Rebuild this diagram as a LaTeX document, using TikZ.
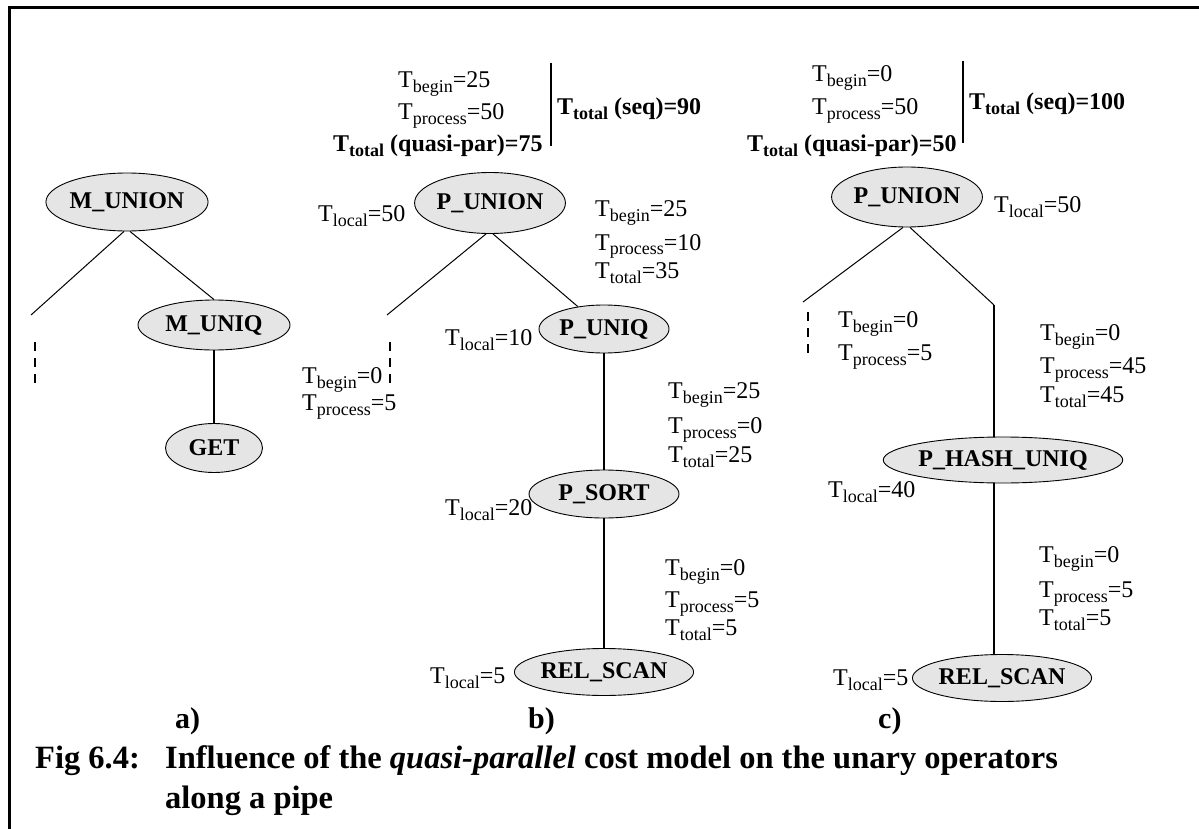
\documentclass[tikz,border=0pt]{standalone}
\usepackage{fontspec}
\setmainfont{Liberation Serif}
\usetikzlibrary{shapes.geometric}

\definecolor{opgray}{RGB}{229,229,229}
\newcommand{\Ts}[1]{T\raisebox{-5pt}{\fontsize{18}{18}\selectfont #1}}

\tikzset{
	op/.style={ellipse, draw, fill=opgray, line width=0.9pt, inner sep=0pt, minimum height=48pt, font=\fontsize{24}{28}\selectfont\bfseries},
	cost/.style={anchor=base west, inner sep=0pt, font=\fontsize{24}{28}\selectfont},
	costb/.style={cost, font=\fontsize{24}{28}\selectfont\bfseries},
	branch/.style={line width=1pt},
	pipe/.style={line width=1.9pt},
	stub/.style={line width=1.8pt, dash pattern=on 9pt off 7pt},
	divider/.style={line width=2.2pt},
	sublabel/.style={anchor=base west, inner sep=0pt, font=\fontsize{30}{34}\selectfont\bfseries},
	caption/.style={anchor=base west, inner sep=0pt, font=\fontsize{32.5}{38}\selectfont\bfseries},
}

\begin{document}
\begin{tikzpicture}[x=1pt,y=-1pt]
	\useasboundingbox (0,0) rectangle (1199,829);
	\draw[line width=3pt] (9,829) -- (9,8) -- (1199,8);

	\node[op, minimum width=147pt, minimum height=58pt] (mu_a) at (127,202) {M\_UNION};
	\node[op, minimum width=152pt, minimum height=50pt] (mq_a) at (214,325) {M\_UNIQ};
	\node[op, minimum width=97pt, minimum height=49pt] (get_a) at (214,448) {GET};
	\coordinate (la) at (31,315);
	\coordinate (da1) at (35,342);
	\coordinate (da2) at (35,387);
	\draw[branch] ([xshift=-3pt]mu_a.south) -- (la);
	\draw[branch] ([xshift=3pt]mu_a.south) -- (mq_a.north);
	\draw[pipe] (mq_a) -- (get_a);
	\draw[stub] (da1) -- (da2);

	\node[op, minimum width=147pt, minimum height=61pt] (pu_b) at (490,203) {P\_UNION};
	\node[op, minimum width=130pt] (pq_b) at (604,329) {P\_UNIQ};
	\node[op, minimum width=150pt] (ps_b) at (604,494) {P\_SORT};
	\node[op, minimum width=175pt, minimum height=47pt] (rs_b) at (604,672) {REL\_SCAN};
	\coordinate (lb) at (387,315);
	\coordinate (db1) at (390,342);
	\coordinate (db2) at (390,383);
	\draw[branch] ([xshift=-4pt]pu_b.south) -- (lb);
	\draw[branch] ([xshift=3pt]pu_b.south) -- (pq_b);
	\draw[pipe] (pq_b) -- (ps_b);
	\draw[pipe] (ps_b) -- (rs_b);
	\draw[stub] (db1) -- (db2);

	\node[cost] (b_beg) at (398,88) {\Ts{begin}=25};
	\node[cost] (b_proc) at (398,120) {\Ts{process}=50};
	\node[costb] (b_par) at (333,152) {\Ts{total} (quasi-par)=75};
	\draw[divider] (551,63) -- (551,146);
	\node[costb] (b_seq) at (557,115) {\Ts{total} (seq)=90};
	\node[cost] (b_loc1) at (318,222) {\Ts{local}=50};
	\node[cost] (b_beg1) at (595,217) {\Ts{begin}=25};
	\node[cost] (b_proc1) at (595,250) {\Ts{process}=10};
	\node[cost] (b_tot1) at (595,278) {\Ts{total}=35};
	\node[cost] (b_loc2) at (445,345) {\Ts{local}=10};
	\node[cost] (b_beg0) at (302,383) {\Ts{begin}=0};
	\node[cost] (b_proc0) at (302,410) {\Ts{process}=5};
	\node[cost] (b_beg2) at (668,398) {\Ts{begin}=25};
	\node[cost] (b_proc2) at (668,433) {\Ts{process}=0};
	\node[cost] (b_tot2) at (668,462) {\Ts{total}=25};
	\node[cost] (b_loc3) at (445,515) {\Ts{local}=20};
	\node[cost] (b_beg3) at (665,575) {\Ts{begin}=0};
	\node[cost] (b_proc3) at (665,607) {\Ts{process}=5};
	\node[cost] (b_tot3) at (665,635) {\Ts{total}=5};
	\node[cost] (b_loc4) at (430,683) {\Ts{local}=5};

	\node[op, minimum width=147pt, minimum height=60pt] (pu_c) at (907,197) {P\_UNION};
	\node[op, minimum width=216pt, minimum height=46pt] (ph_c) at (1003,460) {P\_HASH\_UNIQ};
	\node[op, minimum width=174pt, minimum height=47pt] (rs_c) at (1002,678) {REL\_SCAN};
	\coordinate (lc) at (803,302);
	\coordinate (bend) at (994,305);
	\coordinate (dc1) at (808,312);
	\coordinate (dc2) at (808,353);
	\draw[branch] ([xshift=-4pt]pu_c.south) -- (lc);
	\draw[branch] ([xshift=3pt]pu_c.south) -- (bend);
	\draw[pipe] (bend) -- (ph_c.north -| bend);
	\draw[pipe] (ph_c.south -| bend) -- (rs_c.north -| bend);
	\draw[stub] (dc1) -- (dc2);

	\node[cost] (c_beg) at (812,82) {\Ts{begin}=0};
	\node[cost] (c_proc) at (812,115) {\Ts{process}=50};
	\node[costb] (c_par) at (747,152) {\Ts{total} (quasi-par)=50};
	\draw[divider] (963,61) -- (963,143);
	\node[costb] (c_seq) at (969,110) {\Ts{total} (seq)=100};
	\node[cost] (c_loc1) at (994,213) {\Ts{local}=50};
	\node[cost] (c_beg0) at (838,327) {\Ts{begin}=0};
	\node[cost] (c_proc0) at (838,360) {\Ts{process}=5};
	\node[cost] (c_beg1) at (1040,340) {\Ts{begin}=0};
	\node[cost] (c_proc1) at (1040,373) {\Ts{process}=45};
	\node[cost] (c_tot1) at (1040,402) {\Ts{total}=45};
	\node[cost] (c_loc2) at (828,497) {\Ts{local}=40};
	\node[cost] (c_beg2) at (1039,562) {\Ts{begin}=0};
	\node[cost] (c_proc2) at (1039,597) {\Ts{process}=5};
	\node[cost] (c_tot2) at (1039,625) {\Ts{total}=5};
	\node[cost] (c_loc3) at (833,685) {\Ts{local}=5};

	\node[sublabel] (lab_a) at (175,728) {a)};
	\node[sublabel] (lab_b) at (528,728) {b)};
	\node[sublabel] (lab_c) at (878,728) {c)};

	\node[caption] (fig) at (35,768) {Fig 6.4:};
	\node[caption] (cap1) at (165,768) {Influence of the \textit{quasi-parallel} cost model on the unary operators};
	\node[caption] (cap2) at (165,808) {along a pipe};
\end{tikzpicture}
\end{document}
